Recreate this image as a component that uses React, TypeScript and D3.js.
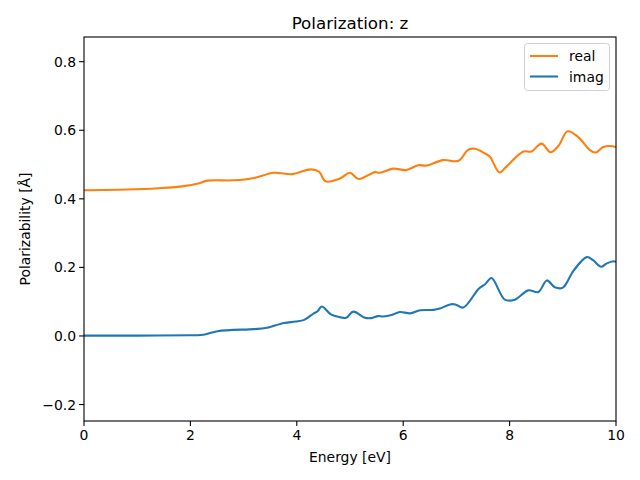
import * as d3 from "d3";
import { useEffect, useRef } from "react";

// energy grid points (eV) and values
const realEnergy = [0, 0.8, 1.4, 1.88, 2.15, 2.32, 2.8, 3.2, 3.57, 3.92, 4.26, 4.42, 4.54, 4.82, 5.0, 5.16, 5.47, 5.56, 5.81, 6.06, 6.28, 6.44, 6.75, 7.04, 7.22, 7.35, 7.54, 7.63, 7.81, 7.94, 8.26, 8.41, 8.6, 8.77, 8.92, 9.09, 9.29, 9.51, 9.62, 9.76, 9.89, 10];
const realValues = [0.425, 0.427, 0.431, 0.437, 0.445, 0.453, 0.454, 0.461, 0.476, 0.472, 0.486, 0.479, 0.451, 0.46, 0.476, 0.458, 0.478, 0.476, 0.488, 0.484, 0.498, 0.497, 0.513, 0.511, 0.543, 0.546, 0.532, 0.523, 0.477, 0.494, 0.538, 0.538, 0.561, 0.536, 0.555, 0.597, 0.58, 0.542, 0.535, 0.551, 0.554, 0.551];

const imagEnergy = [0, 1.0, 2.0, 2.19, 2.29, 2.51, 3.2, 3.41, 3.76, 3.98, 4.14, 4.32, 4.39, 4.47, 4.64, 4.81, 4.93, 5.06, 5.28, 5.4, 5.53, 5.62, 5.78, 5.94, 6.13, 6.32, 6.57, 6.69, 6.88, 6.98, 7.13, 7.42, 7.54, 7.66, 7.91, 8.1, 8.35, 8.54, 8.7, 8.85, 9.0, 9.2, 9.45, 9.57, 9.72, 9.82, 9.95, 10];
const imagValues = [0.001, 0.001, 0.002, 0.003, 0.005, 0.014, 0.02, 0.023, 0.038, 0.042, 0.047, 0.066, 0.072, 0.086, 0.063, 0.055, 0.053, 0.071, 0.053, 0.052, 0.058, 0.057, 0.061, 0.07, 0.066, 0.075, 0.076, 0.08, 0.092, 0.092, 0.083, 0.138, 0.151, 0.169, 0.106, 0.106, 0.133, 0.128, 0.162, 0.142, 0.141, 0.19, 0.23, 0.221, 0.202, 0.211, 0.218, 0.216];

const xTicks = [0, 2, 4, 6, 8, 10];
const yTicks = [-0.2, 0, 0.2, 0.4, 0.6, 0.8];

const seriesNames = ["real", "imag"];
const seriesColors = ["#ff7f0e", "#1f77b4"];

export default function App() {
    const ref = useRef<SVGSVGElement | null>(null);
    const width = 640;
    const height = 480;

    useEffect(() => {
        if (!ref.current) return;
        const svg = d3.select(ref.current);
        svg.selectAll("*").remove();

        const left = 84, right = 616, top = 37, bottom = 421;
        const font = "DejaVu Sans, sans-serif";

        const x = d3.scaleLinear().domain([0, 10]).range([left, right]);
        const y = d3.scaleLinear().domain([-0.248, 0.872]).range([bottom, top]);

        svg.append("rect").attr("width", width).attr("height", height).attr("fill", "white");

        const line = d3.line<[number, number]>()
            .x(d => x(d[0]))
            .y(d => y(d[1]))
            .curve(d3.curveCatmullRom.alpha(0.5));

        const series: [number, number][][] = [
            realEnergy.map((e, i) => [e, realValues[i]]),
            imagEnergy.map((e, i) => [e, imagValues[i]]),
        ];

        const clip = svg.append("clipPath").attr("id", "plotclip");
        clip.append("rect").attr("x", left).attr("y", top).attr("width", right - left).attr("height", bottom - top);

        series.forEach((s, i) => {
            svg.append("path")
                .attr("d", line(s)!)
                .attr("fill", "none")
                .attr("stroke", seriesColors[i])
                .attr("stroke-width", 2.1)
                .attr("stroke-linejoin", "round")
                .attr("clip-path", "url(#plotclip)");
        });

        // frame
        svg.append("rect")
            .attr("x", left).attr("y", top)
            .attr("width", right - left).attr("height", bottom - top)
            .attr("fill", "none").attr("stroke", "black").attr("stroke-width", 1.1);

        // x ticks
        xTicks.forEach(t => {
            svg.append("line")
                .attr("x1", x(t)).attr("x2", x(t))
                .attr("y1", bottom).attr("y2", bottom + 4.9)
                .attr("stroke", "black").attr("stroke-width", 1.1);
            svg.append("text")
                .attr("x", x(t)).attr("y", bottom + 19)
                .attr("text-anchor", "middle")
                .attr("font-family", font).attr("font-size", "13.9px")
                .attr("fill", "#000")
                .text(String(t));
        });

        // y ticks
        yTicks.forEach(t => {
            svg.append("line")
                .attr("x1", left - 4.9).attr("x2", left)
                .attr("y1", y(t)).attr("y2", y(t))
                .attr("stroke", "black").attr("stroke-width", 1.1);
            svg.append("text")
                .attr("x", left - 8).attr("y", y(t) + 5)
                .attr("text-anchor", "end")
                .attr("font-family", font).attr("font-size", "13.9px")
                .attr("fill", "#000")
                .text(t.toFixed(1).replace("-", "\u2212"));
        });

        // labels
        svg.append("text")
            .attr("x", (left + right) / 2).attr("y", 462)
            .attr("text-anchor", "middle")
            .attr("font-family", font).attr("font-size", "13.9px")
            .text("Energy [eV]");

        svg.append("text")
            .attr("transform", `translate(30,${(top + bottom) / 2}) rotate(-90)`)
            .attr("text-anchor", "middle")
            .attr("font-family", font).attr("font-size", "13.9px")
            .text("Polarizability [Å]");

        svg.append("text")
            .attr("x", (left + right) / 2).attr("y", 29)
            .attr("text-anchor", "middle")
            .attr("font-family", font).attr("font-size", "16.7px")
            .text("Polarization: z");

        // legend
        const legend = svg.append("g");
        legend.append("rect")
            .attr("x", 524.5).attr("y", 43.5)
            .attr("width", 85).attr("height", 47)
            .attr("rx", 3)
            .attr("fill", "white").attr("fill-opacity", 0.8)
            .attr("stroke", "#d0d0d0");
        seriesNames.forEach((name, i) => {
            const ly = 56 + i * 20.5;
            legend.append("line")
                .attr("x1", 530).attr("x2", 558)
                .attr("y1", ly).attr("y2", ly)
                .attr("stroke", seriesColors[i]).attr("stroke-width", 2.1);
            legend.append("text")
                .attr("x", 569).attr("y", ly + 5)
                .attr("font-family", font).attr("font-size", "13.9px")
                .text(name);
        });
    }, []);

    return (
        <svg
            ref={ref}
            width={width}
            height={height}
            style={{ position: "absolute", left: 0, top: 0 }}
        />
    );
}
